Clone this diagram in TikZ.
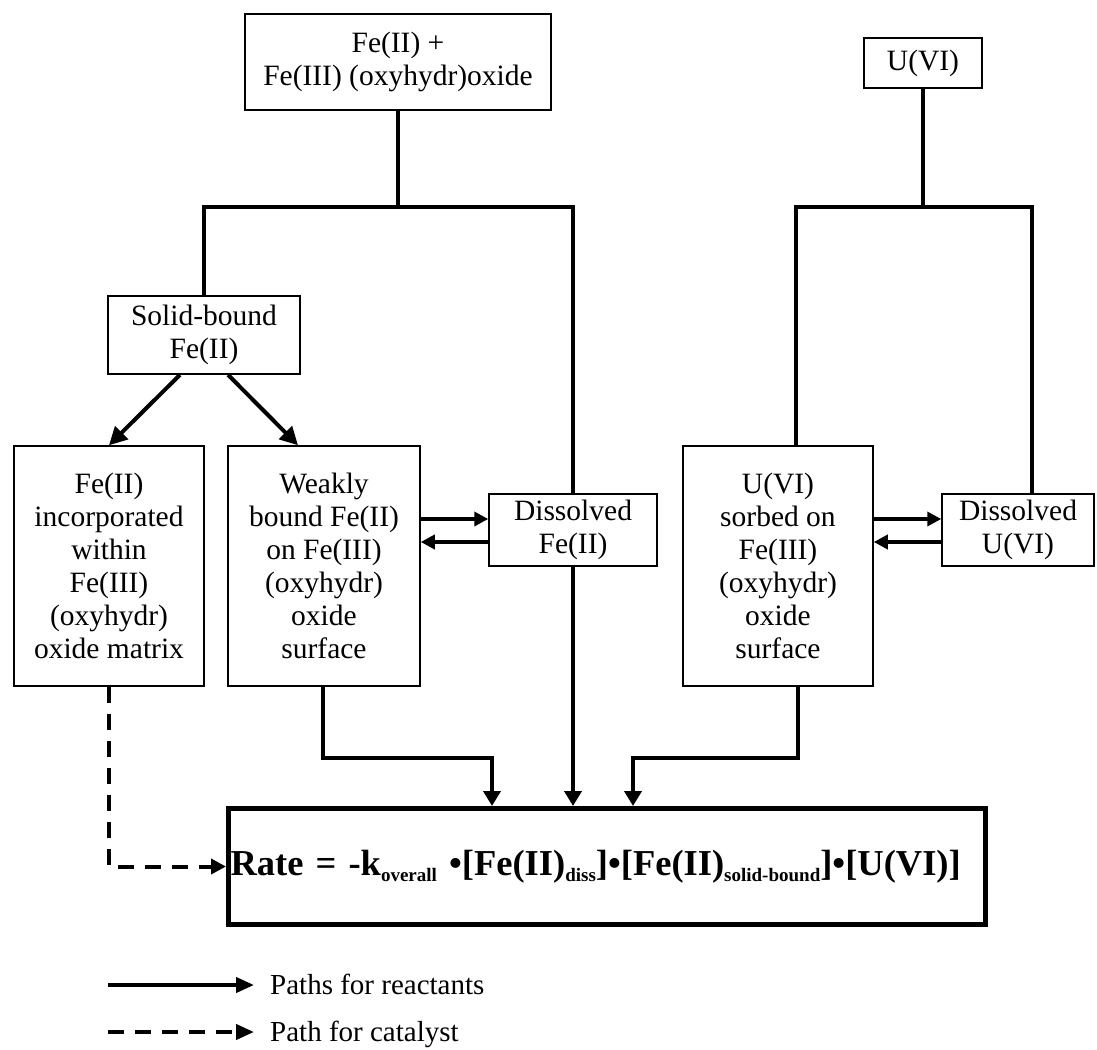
\documentclass[tikz,border=0pt]{standalone}
\usepackage{fontspec}
\setmainfont{Liberation Serif}
\usetikzlibrary{arrows.meta}
\newcommand\mysub[1]{\raisebox{-6pt}{\fontsize{19}{19}\selectfont\bfseries #1}}
\begin{document}
\begin{tikzpicture}[x=1pt,y=-1pt,
  box/.style={draw, line width=1.5pt, inner sep=0pt, align=center,
    font=\fontsize{29.5}{33}\selectfont},
  conn/.style={line width=4pt},
  downarr/.style={conn, -{Triangle[length=15pt,width=17pt]}},
  diagarr/.style={conn, -{Triangle[length=18pt,width=18pt]}},
  biarr/.style={conn, -{Triangle[length=14pt,width=14pt]}},
  dsh/.style={line width=4pt, dash pattern=on 16pt off 11pt, -{Triangle[length=15pt,width=15pt]}},
  legarr/.style={conn, -{Triangle[length=18pt,width=15pt]}},
  legtext/.style={anchor=base west, inner sep=0pt, font=\fontsize{29}{33}\selectfont}
]
\useasboundingbox (0,0) rectangle (1097,1049);

% boxes
\node[box, minimum width=306pt, minimum height=96pt] (top) at (398,62) {Fe(II) +\\Fe(III) (oxyhydr)oxide};
\node[box, minimum width=118pt, minimum height=50pt] (uvi) at (923,63) {U(VI)};
\node[box, minimum width=192pt, minimum height=78pt] (solid) at (204,335) {Solid-bound\\Fe(II)};
\node[box, minimum width=190pt, minimum height=240pt] (inc) at (109,566) {Fe(II)\\incorporated\\within\\Fe(III)\\(oxyhydr)\\oxide matrix};
\node[box, minimum width=192pt, minimum height=240pt] (weak) at (324,566) {Weakly\\bound Fe(II)\\on Fe(III)\\(oxyhydr)\\oxide\\surface};
\node[box, minimum width=168pt, minimum height=72pt] (dfe) at (573,530) {Dissolved\\Fe(II)};
\node[box, minimum width=190pt, minimum height=240pt] (usorb) at (778,566) {U(VI)\\sorbed on\\Fe(III)\\(oxyhydr)\\oxide\\surface};
\node[box, minimum width=152pt, minimum height=72pt] (du) at (1018,530) {Dissolved\\U(VI)};

\node[draw, line width=5pt, minimum width=757pt, minimum height=116pt,
  text width=753pt, inner xsep=2pt, inner ysep=0pt, align=left,
  font=\bfseries\fontsize{36.5}{40}\selectfont] (rate) at (607,866.5)
  {Rate = -k\mysub{overall} •[Fe(II)\mysub{diss}]•[Fe(II)\mysub{solid-bound}]•[U(VI)]};

% junction coordinates
\coordinate (h1) at (204,207);
\coordinate (h2) at (573,207);
\coordinate (h3) at (796,207);
\coordinate (h4) at (1032,207);
\coordinate (j1) at (323,758);
\coordinate (j2) at (492,758);
\coordinate (j3) at (798,758);
\coordinate (j4) at (633,758);

% top Fe tree
\draw[conn] (top.south) -- (top.south |- h1);
\draw[conn] (solid.north) -- (h1) -- (h2) -- (dfe.north);
% top U tree
\draw[conn] (uvi.south) -- (uvi.south |- h3);
\draw[conn] (h3 |- usorb.north) -- (h3) -- (h4) -- (h4 |- du.north);

% solid-bound split
\draw[diagarr] ([xshift=-24pt]solid.south) -- (inc.north);
\draw[diagarr] ([xshift=24pt]solid.south) -- ([xshift=-26pt]weak.north);

% exchange arrows
\draw[biarr] (weak.east |- 0,519) -- (dfe.west |- 0,519);
\draw[biarr] (dfe.west |- 0,542) -- (weak.east |- 0,542);
\draw[biarr] (usorb.east |- 0,519) -- (du.west |- 0,519);
\draw[biarr] (du.west |- 0,542) -- (usorb.east |- 0,542);

% to rate box
\draw[downarr] (j1 |- weak.south) -- (j1) -- (j2) -- (j2 |- rate.north);
\draw[downarr] (dfe.south) -- (dfe.south |- rate.north);
\draw[downarr] (j3 |- usorb.south) -- (j3) -- (j4) -- (j4 |- rate.north);
\draw[dsh] (inc.south) |- (rate.west);

% legend
\coordinate (la1) at (108,985);
\coordinate (la2) at (254,985);
\coordinate (lb1) at (108,1032);
\coordinate (lb2) at (254,1032);
\draw[legarr] (la1) -- (la2);
\draw[dsh, -{Triangle[length=18pt,width=15pt]}] (lb1) -- (lb2);
\node[legtext] (lt1) at (270,994) {Paths for reactants};
\node[legtext] (lt2) at (270,1041) {Path for catalyst};
\end{tikzpicture}
\end{document}
